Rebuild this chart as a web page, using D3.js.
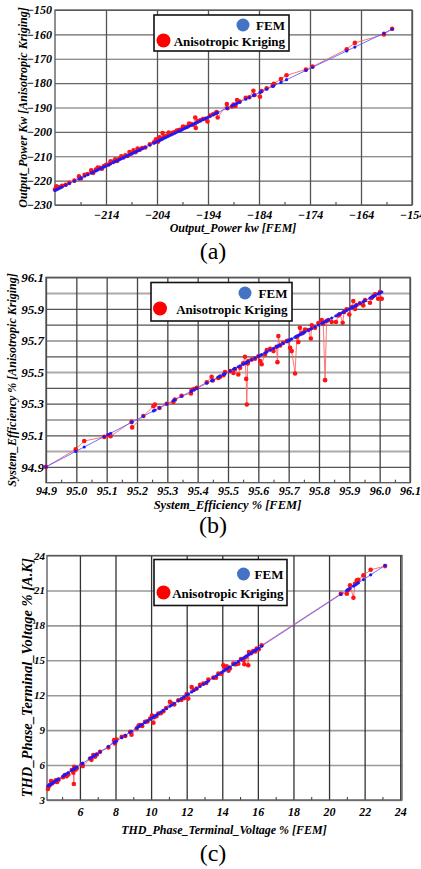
<!DOCTYPE html>
<html>
<head>
<meta charset="utf-8">
<script src="https://cdn.jsdelivr.net/npm/d3@7"></script>
<style>
body { margin: 0; background: #fff; }
svg { display: block; }
.tick text, .axisText { font-family: "Liberation Serif", "Times New Roman", serif; font-weight: bold; font-style: italic; fill: #000; }
.legendText { font-family: "Liberation Serif", "Times New Roman", serif; font-weight: bold; fill: #000; }
.caption { font-family: "Liberation Serif", "Times New Roman", serif; fill: #000; }
</style>
</head>
<body>
<div id="chart"></div>
<script>
// (a) Output power, kW
var powerFem = [-224.0, -223.7, -223.4, -223.0, -222.6, -221.9, -221.2, -220.2, -219.3, -218.9,
    -218.2, -217.6, -216.9, -216.5, -216.0, -215.6, -215.2, -214.8, -214.4, -214.0,
    -213.5, -213.1, -212.6, -212.2, -211.8, -211.4, -211.0, -210.6, -210.2, -209.8,
    -209.4, -209.0, -208.6, -208.2, -207.8, -207.4, -206.9, -206.3, -205.4, -204.6,
    -204.2, -203.8, -203.5, -203.2, -202.9, -202.6, -202.3, -202.0, -201.7, -201.3,
    -200.9, -200.5, -200.1, -199.7, -199.3, -198.9, -198.5, -198.1, -197.7, -197.3,
    -196.9, -196.5, -196.4, -196.0, -195.5, -195.0, -194.5, -194.1, -193.6, -193.0,
    -192.5, -192.3, -192.1, -190.3, -190.2, -189.3, -189.0, -188.6, -188.3, -187.8,
    -186.6, -185.9, -185.1, -184.9, -183.8, -183.5, -182.5, -181.3, -181.1, -179.7,
    -178.6, -174.8, -173.5, -166.8, -165.2, -159.5, -157.9];
var powerKrig = [-223.6, -222.3, -222.9, -222.6, -222.1, -221.7, -220.9, -220.0, -218.2, -219.1,
    -217.6, -217.3, -215.8, -216.8, -215.5, -214.6, -214.7, -215.1, -214.0, -213.6,
    -213.4, -212.1, -212.3, -211.2, -211.9, -211.0, -210.0, -210.5, -209.6, -209.9,
    -208.3, -208.9, -207.6, -208.3, -206.8, -207.3, -206.6, -206.4, -205.1, -204.3,
    -203.0, -204.0, -202.2, -202.9, -200.5, -202.0, -201.8, -201.5, -200.3, -200.9,
    -200.4, -200.1, -199.5, -199.3, -199.0, -197.8, -198.1, -197.9, -196.6, -196.8,
    -197.1, -194.1, -198.4, -195.6, -195.2, -194.7, -194.6, -195.7, -193.3, -192.8,
    -192.3, -191.9, -194.1, -188.6, -190.3, -189.6, -188.8, -189.4, -186.9, -187.6,
    -186.0, -185.8, -183.1, -184.9, -185.6, -183.2, -182.1, -181.0, -180.3, -178.3,
    -176.8, -174.4, -173.2, -166.1, -163.5, -160.0, -157.7];
var powerXTicks = [-214, -204, -194, -184, -174, -164, -154];
var powerXMinor = [-219, -209, -199, -189, -179, -169, -159];
var powerYTicks = [-150, -160, -170, -180, -190, -200, -210, -220, -230];

// (b) System efficiency, %
var effFem = [94.900, 94.998, 95.026, 95.092, 95.105, 95.113, 95.182, 95.184, 95.221, 95.254,
    95.259, 95.274, 95.298, 95.320, 95.325, 95.347, 95.378, 95.380, 95.388, 95.397,
    95.430, 95.446, 95.450, 95.468, 95.474, 95.485, 95.490, 95.507, 95.518, 95.523,
    95.534, 95.540, 95.550, 95.556, 95.560, 95.562, 95.565, 95.567, 95.578, 95.589,
    95.600, 95.606, 95.611, 95.622, 95.628, 95.639, 95.650, 95.660, 95.663, 95.666,
    95.672, 95.682, 95.694, 95.700, 95.705, 95.710, 95.721, 95.727, 95.732, 95.737,
    95.743, 95.748, 95.754, 95.765, 95.773, 95.776, 95.787, 95.798, 95.809, 95.814,
    95.820, 95.825, 95.831, 95.842, 95.856, 95.864, 95.869, 95.878, 95.883, 95.891,
    95.900, 95.908, 95.913, 95.919, 95.924, 95.935, 95.946, 95.952, 95.968, 95.974,
    95.979, 95.985, 95.995, 96.001, 96.007];
var effKrig = [94.900, 95.011, 95.064, 95.090, 95.100, 95.094, 95.186, 95.150, 95.222, 95.284,
    95.295, 95.273, 95.300, 95.311, 95.327, 95.350, 95.365, 95.386, 95.392, 95.400,
    95.436, 95.470, 95.447, 95.463, 95.470, 95.480, 95.500, 95.506, 95.495, 95.520,
    95.485, 95.527, 95.555, 95.597, 95.457, 95.295, 95.555, 95.570, 95.580, 95.585,
    95.600, 95.570, 95.550, 95.612, 95.639, 95.647, 95.633, 95.660, 95.563, 95.728,
    95.668, 95.685, 95.696, 95.700, 95.654, 95.633, 95.491, 95.723, 95.690, 95.780,
    95.745, 95.750, 95.770, 95.766, 95.713, 95.796, 95.780, 95.810, 95.829, 95.806,
    95.449, 95.823, 95.830, 95.817, 95.817, 95.859, 95.868, 95.812, 95.880, 95.897,
    95.865, 95.912, 95.950, 95.900, 95.925, 95.935, 95.922, 95.956, 95.939, 95.970,
    95.980, 95.992, 95.964, 96.007, 95.964];
var effXTicks = [94.9, 95.0, 95.1, 95.2, 95.3, 95.4, 95.5, 95.6, 95.7, 95.8, 95.9, 96.0, 96.1];
var effXMinor = [94.95, 95.05, 95.15, 95.25, 95.35, 95.45, 95.55, 95.65, 95.75, 95.85, 95.95, 96.05];
var effYTicks = [94.9, 95.1, 95.3, 95.5, 95.7, 95.9, 96.1];
var effYGrid = [94.9, 95.0, 95.1, 95.2, 95.3, 95.4, 95.5, 95.6, 95.7, 95.8, 95.9, 96.0, 96.1];

// (c) THD of phase terminal voltage, %
var thdFem = [4.20, 4.25, 4.32, 4.38, 4.45, 4.55, 4.65, 4.72, 4.80, 5.05,
    5.15, 5.25, 5.35, 5.54, 5.63, 5.66, 5.68, 5.75, 5.82, 6.10,
    6.16, 6.57, 6.65, 6.75, 6.85, 6.95, 7.13, 7.60, 7.92, 7.97,
    8.05, 8.35, 8.55, 8.82, 8.90, 9.19, 9.30, 9.38, 9.50, 9.66,
    9.80, 9.95, 10.05, 10.13, 10.20, 10.30, 10.41, 10.55, 10.69, 10.85,
    11.06, 11.16, 11.30, 11.53, 11.70, 11.85, 12.00, 12.09, 12.28, 12.40,
    12.56, 12.75, 12.94, 13.10, 13.22, 13.50, 13.65, 13.78, 13.95, 14.06,
    14.15, 14.25, 14.35, 14.43, 14.62, 14.75, 14.90, 15.05, 15.18, 15.24,
    15.35, 15.46, 15.50, 15.62, 15.74, 15.85, 15.93, 16.05, 16.21, 20.66,
    21.00, 21.10, 21.18, 21.37, 21.46, 21.56, 21.65, 21.93, 22.34, 23.15];
var thdKrig = [3.95, 4.15, 4.30, 4.63, 4.43, 4.57, 4.70, 4.55, 4.75, 4.95,
    5.14, 5.05, 5.20, 5.57, 5.34, 4.37, 5.86, 5.60, 5.71, 6.06,
    5.91, 6.57, 6.45, 6.86, 6.71, 6.90, 7.14, 7.51, 8.14, 7.86,
    8.20, 8.43, 8.50, 8.86, 8.60, 9.14, 9.40, 9.43, 9.35, 9.71,
    9.75, 10.00, 10.25, 9.63, 10.14, 10.20, 10.43, 10.45, 10.63, 10.90,
    11.43, 11.29, 11.20, 11.57, 11.60, 11.75, 12.09, 11.71, 12.71, 12.45,
    12.57, 12.90, 13.00, 13.05, 13.34, 13.51, 13.50, 13.86, 13.85, 14.57,
    14.40, 14.49, 14.10, 14.29, 14.71, 14.65, 14.71, 15.10, 15.00, 14.66,
    15.30, 14.57, 15.71, 15.60, 15.80, 15.75, 16.00, 15.95, 16.29, 20.71,
    20.71, 21.05, 21.43, 20.37, 21.57, 21.86, 21.91, 22.29, 22.77, 23.09];
var thdXTicks = [6, 8, 10, 12, 14, 16, 18, 20, 22, 24];
var thdXMinor = [5, 7, 9, 11, 13, 15, 17, 19, 21, 23];
var thdYTicks = [3, 6, 9, 12, 15, 18, 21, 24];

var legendNames = ["FEM", "Anisotropic Kriging"];

var svgWidth = 421;
var svgHeight = 869;

var svg = d3.select("#chart")
    .append("svg")
    .attr("width", svgWidth)
    .attr("height", svgHeight);

function drawPanel(p) {
    var xScale = d3.scaleLinear().domain(p.xDomain).range([p.left, p.right]);
    var yScale = d3.scaleLinear().domain(p.yDomain).range([p.bottom, p.top]);
    var h = p.bottom - p.top;
    var w = p.right - p.left;
    var g = svg.append("g");

    // horizontal grid
    g.append("g")
        .attr("transform", `translate(${p.left}, 0)`)
        .call(d3.axisLeft(yScale).tickValues(p.yGrid).tickSize(-w).tickFormat(""))
        .call(a => a.select(".domain").remove())
        .selectAll("line")
        .attr("stroke", d => p.hColor(d))
        .attr("stroke-width", d => p.hWidth(d));

    // vertical grid
    g.append("g")
        .attr("transform", `translate(0, ${p.bottom})`)
        .call(d3.axisBottom(xScale).tickValues(p.xTicks).tickSize(-h).tickFormat(""))
        .call(a => a.select(".domain").remove())
        .selectAll("line")
        .attr("stroke", p.vColor)
        .attr("stroke-width", 1.3);

    // minor ticks on the bottom edge
    g.append("g")
        .attr("transform", `translate(0, ${p.bottom})`)
        .call(d3.axisBottom(xScale).tickValues(p.xMinor).tickSize(-3).tickFormat(""))
        .call(a => a.select(".domain").remove())
        .selectAll("line")
        .attr("stroke", "#333");

    g.append("rect")
        .attr("x", p.left)
        .attr("y", p.top)
        .attr("width", w)
        .attr("height", h)
        .attr("fill", "none")
        .attr("stroke", "#555")
        .attr("stroke-width", 1.3);

    // tick labels
    g.append("g")
        .attr("transform", `translate(0, ${p.bottom})`)
        .call(d3.axisBottom(xScale).tickValues(p.xTicks).tickSize(0).tickPadding(0).tickFormat(p.xFormat))
        .call(a => a.select(".domain").remove())
        .selectAll("text")
        .attr("dy", null)
        .attr("y", p.xLabelY - p.bottom)
        .style("font-size", p.xTickSize + "px");

    g.append("g")
        .attr("transform", `translate(${p.left}, 0)`)
        .call(d3.axisLeft(yScale).tickValues(p.yTicks).tickSize(0).tickPadding(p.yPad).tickFormat(p.yFormat))
        .call(a => a.select(".domain").remove())
        .selectAll("text")
        .style("font-size", p.yTickSize + "px");

    var line = d3.line()
        .x(i => xScale(p.fem[i]))
        .y(i => yScale(p.krig[i]));
    var femLine = d3.line()
        .x(i => xScale(p.fem[i]))
        .y(i => yScale(p.fem[i]));
    var idx = d3.range(p.fem.length);

    g.append("path")
        .datum(idx)
        .attr("d", line)
        .attr("fill", "none")
        .attr("stroke", "#ff6464")
        .attr("stroke-width", 0.9);

    g.append("path")
        .datum(idx)
        .attr("d", femLine)
        .attr("fill", "none")
        .attr("stroke", "#5a62ff")
        .attr("stroke-width", 0.9);

    g.selectAll(null)
        .data(idx)
        .enter()
        .append("circle")
        .attr("cx", i => xScale(p.fem[i]))
        .attr("cy", i => yScale(p.krig[i]))
        .attr("r", 2.3)
        .attr("fill", "#ff1414");

    g.selectAll(null)
        .data(idx)
        .enter()
        .append("circle")
        .attr("cx", i => xScale(p.fem[i]))
        .attr("cy", i => yScale(p.fem[i]))
        .attr("r", 1.6)
        .attr("fill", "#1a1aff");

    // legend
    var L = p.legend;
    g.append("rect")
        .attr("x", L.x)
        .attr("y", L.y)
        .attr("width", L.w)
        .attr("height", L.h)
        .attr("fill", "#fff")
        .attr("stroke", "#111")
        .attr("stroke-width", 1.6);
    g.append("circle")
        .attr("cx", L.blueX)
        .attr("cy", L.row1 - 4.5)
        .attr("r", 6.5)
        .attr("fill", "#4472c4");
    g.append("circle")
        .attr("cx", L.redX)
        .attr("cy", L.row2 - 5)
        .attr("r", 7)
        .attr("fill", "#ff0000");
    g.append("text")
        .attr("class", "legendText")
        .attr("x", L.textEnd)
        .attr("y", L.row1)
        .attr("text-anchor", "end")
        .style("font-size", "13px")
        .text(legendNames[0]);
    g.append("text")
        .attr("class", "legendText")
        .attr("x", L.textEnd)
        .attr("y", L.row2)
        .attr("text-anchor", "end")
        .style("font-size", "13px")
        .text(legendNames[1]);

    // axis titles
    g.append("text")
        .attr("class", "axisText")
        .attr("x", p.xTitleX)
        .attr("y", p.xTitleY)
        .attr("text-anchor", "middle")
        .style("font-size", p.xTitleSize + "px")
        .text(p.xTitle);

    g.append("text")
        .attr("class", "axisText")
        .attr("transform", `translate(${p.yTitleX}, ${(p.top + p.bottom) / 2}) rotate(-90)`)
        .attr("text-anchor", "middle")
        .style("font-size", p.yTitleSize + "px")
        .text(p.yTitle);

    g.append("text")
        .attr("class", "caption")
        .attr("x", 213)
        .attr("y", p.captionY)
        .attr("text-anchor", "middle")
        .style("font-size", "24px")
        .text(p.caption);
}

drawPanel({
    fem: powerFem, krig: powerKrig,
    xDomain: [-224, -154], yDomain: [-230, -150],
    left: 55, right: 412, top: 10, bottom: 205,
    xTicks: powerXTicks, xMinor: powerXMinor, yTicks: powerYTicks, yGrid: powerYTicks,
    xFormat: d3.format("d"), yFormat: d3.format("d"),
    hColor: d => "#666", hWidth: d => 1.2, vColor: "#555",
    xLabelY: 218.5, xTickSize: 12, yTickSize: 12, yPad: 3,
    legend: { x: 154, y: 15, w: 135, h: 36, blueX: 243, redX: 163.5, textEnd: 285, row1: 29.5, row2: 45.5 },
    xTitle: "Output_Power kw [FEM]", xTitleX: 233, xTitleY: 232, xTitleSize: 12,
    yTitle: "Output_Power Kw [Anisotropic Kriging]", yTitleX: 27, yTitleSize: 12,
    caption: "(a)", captionY: 258.5
});

drawPanel({
    fem: effFem, krig: effKrig,
    xDomain: [94.9, 96.1], yDomain: [94.8, 96.1],
    left: 46, right: 410, top: 277.3, bottom: 482.7,
    xTicks: effXTicks, xMinor: effXMinor, yTicks: effYTicks, yGrid: effYGrid,
    xFormat: d3.format(".1f"), yFormat: d3.format(".1f"),
    hColor: d => ([95.0, 95.5, 96.0].some(v => Math.abs(v - d) < 1e-6) ? "#aaa" : "#555"),
    hWidth: d => ([95.0, 95.5, 96.0].some(v => Math.abs(v - d) < 1e-6) ? 2 : 1.2),
    vColor: "#444",
    xLabelY: 495, xTickSize: 12, yTickSize: 13, yPad: 2,
    legend: { x: 151, y: 282.5, w: 141, h: 38.5, blueX: 245, redX: 160, textEnd: 287.5, row1: 297.5, row2: 313.5 },
    xTitle: "System_Efficiency % [FEM]", xTitleX: 227.5, xTitleY: 509, xTitleSize: 12.5,
    yTitle: "System_Efficiency % [Anisotropic Kriging]", yTitleX: 16, yTitleSize: 12,
    caption: "(b)", captionY: 533
});

drawPanel({
    fem: thdFem, krig: thdKrig,
    xDomain: [4.15, 24.1], yDomain: [3, 24],
    left: 47, right: 402, top: 555.5, bottom: 800,
    xTicks: thdXTicks, xMinor: thdXMinor, yTicks: thdYTicks, yGrid: thdYTicks,
    xFormat: d3.format("d"), yFormat: d3.format("d"),
    hColor: d => "#999", hWidth: d => 1.6, vColor: "#333",
    xLabelY: 816, xTickSize: 12, yTickSize: 11, yPad: 2,
    legend: { x: 154, y: 559.5, w: 133, h: 46, blueX: 243.5, redX: 163.5, textEnd: 283.5, row1: 578.5, row2: 597.5 },
    xTitle: "THD_Phase_Terminal_Voltage % [FEM]", xTitleX: 224, xTitleY: 834, xTitleSize: 12,
    yTitle: "THD_Phase_Terminal_Voltage % [A.K]", yTitleX: 32, yTitleSize: 14.5,
    caption: "(c)", captionY: 861
});
</script>
</body>
</html>
